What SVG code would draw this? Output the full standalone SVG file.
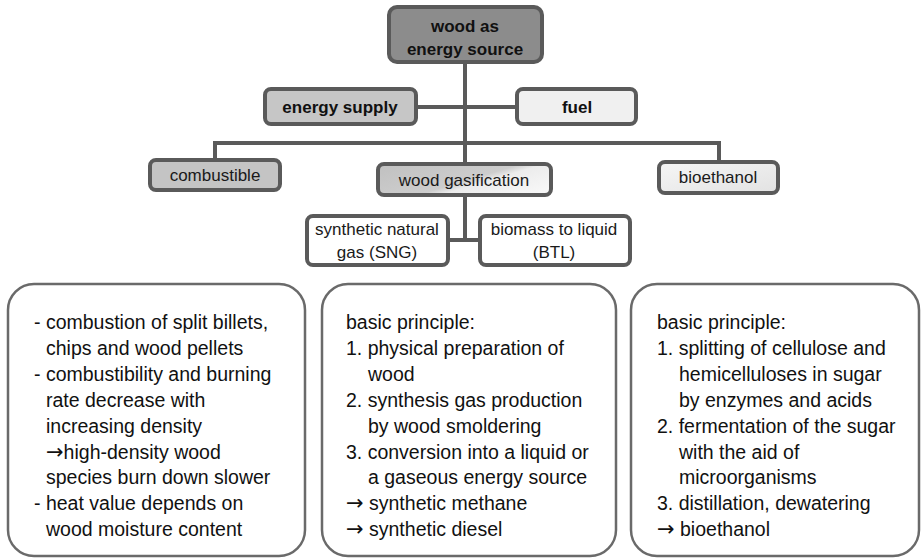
<svg xmlns="http://www.w3.org/2000/svg" width="923" height="559" viewBox="0 0 923 559">
<style>
.node{stroke:#5a5a5a;stroke-width:4}
.lbl{font-family:"Liberation Sans",Arial,sans-serif;font-size:17px;fill:#1a1a1a;text-anchor:middle}
.b{font-weight:bold;fill:#111}
.conn{stroke:#5a5a5a;stroke-width:4;fill:none}
.panel{fill:#fff;stroke:#6a6a6a;stroke-width:2.5}
.body{font-family:"Liberation Sans",Arial,sans-serif;font-size:19.5px;fill:#111}
.arr{font-family:"DejaVu Sans",sans-serif;font-size:21px}
</style>
<defs>
<linearGradient id="gGas" x1="0" y1="0.2" x2="1" y2="0.8">
<stop offset="0" stop-color="#c2c2c2"/>
<stop offset="0.52" stop-color="#cdcdcd"/>
<stop offset="0.62" stop-color="#ececec"/>
<stop offset="1" stop-color="#f7f7f7"/>
</linearGradient>
<linearGradient id="gBio" x1="0" y1="0" x2="1" y2="1">
<stop offset="0" stop-color="#f6f6f6"/>
<stop offset="1" stop-color="#e2e2e2"/>
</linearGradient>
</defs>
<rect width="923" height="559" fill="#fff"/>
<g id="connectors">
<line class="conn" x1="465" y1="62" x2="465" y2="164"/>
<line class="conn" x1="416" y1="107" x2="517" y2="107"/>
<polyline class="conn" points="215,160 215,143 719,143 719,162"/>
<line class="conn" x1="465" y1="195" x2="465" y2="240"/>
<line class="conn" x1="448" y1="240" x2="480" y2="240"/>
</g>
<g id="wood-energy-source">
<rect class="node" x="389" y="7" width="153" height="55" rx="8" fill="#8c8c8c"/>
<text class="lbl b" x="465" y="32" font-size="19">wood as</text>
<text class="lbl b" x="465" y="55" font-size="19">energy source</text>
</g>
<g id="energy-supply">
<rect class="node" x="265" y="89" width="151" height="35" rx="6" fill="#c6c6c6"/>
<text class="lbl b" x="340" y="113">energy supply</text>
</g>
<g id="fuel">
<rect class="node" x="517" y="89" width="119" height="35" rx="6" fill="#f0f0f0"/>
<text class="lbl b" x="577" y="113">fuel</text>
</g>
<g id="combustible">
<rect class="node" x="150" y="160" width="130" height="30" rx="6" fill="#c4c4c4"/>
<text class="lbl" x="215" y="181">combustible</text>
</g>
<g id="wood-gasification">
<rect class="node" x="378" y="164" width="173" height="31" rx="6" fill="url(#gGas)"/>
<text class="lbl" x="464" y="186">wood gasification</text>
</g>
<g id="bioethanol">
<rect class="node" x="659" y="162" width="119" height="31" rx="6" fill="url(#gBio)"/>
<text class="lbl" x="718" y="183">bioethanol</text>
</g>
<g id="sng">
<rect class="node" x="307" y="216" width="141" height="49" rx="6" fill="#fff"/>
<text class="lbl" x="377" y="235">synthetic natural</text>
<text class="lbl" x="377" y="258">gas (SNG)</text>
</g>
<g id="btl">
<rect class="node" x="480" y="216" width="150" height="49" rx="6" fill="#fff"/>
<text class="lbl" x="554" y="235">biomass to liquid</text>
<text class="lbl" x="554" y="258">(BTL)</text>
</g>
<g id="combustible-details">
<rect class="panel" x="8" y="284" width="297" height="272" rx="26"/>
<text class="body">
<tspan x="34" y="329">- combustion of split billets,</tspan>
<tspan x="46" y="354.9">chips and wood pellets</tspan>
<tspan x="34" y="380.8">- combustibility and burning</tspan>
<tspan x="46" y="406.7">rate decrease with</tspan>
<tspan x="46" y="432.6">increasing density</tspan>
<tspan x="46" y="458.5"><tspan class="arr">→</tspan>high-density wood</tspan>
<tspan x="46" y="484.4">species burn down slower</tspan>
<tspan x="34" y="510.3">- heat value depends on</tspan>
<tspan x="46" y="536.2">wood moisture content</tspan>
</text>
</g>
<g id="gasification-details">
<rect class="panel" x="322" y="284" width="294" height="272" rx="26"/>
<text class="body">
<tspan x="346" y="329">basic principle:</tspan>
<tspan x="346" y="354.9">1. physical preparation of</tspan>
<tspan x="368" y="380.8">wood</tspan>
<tspan x="346" y="406.7">2. synthesis gas production</tspan>
<tspan x="368" y="432.6">by wood smoldering</tspan>
<tspan x="346" y="458.5">3. conversion into a liquid or</tspan>
<tspan x="368" y="484.4">a gaseous energy source</tspan>
<tspan x="346" y="510.3"><tspan class="arr">→</tspan> synthetic methane</tspan>
<tspan x="346" y="536.2"><tspan class="arr">→</tspan> synthetic diesel</tspan>
</text>
</g>
<g id="bioethanol-details">
<rect class="panel" x="631" y="284" width="288" height="272" rx="26"/>
<text class="body">
<tspan x="657" y="329">basic principle:</tspan>
<tspan x="657" y="354.9">1. splitting of cellulose and</tspan>
<tspan x="679" y="380.8">hemicelluloses in sugar</tspan>
<tspan x="679" y="406.7">by enzymes and acids</tspan>
<tspan x="657" y="432.6">2. fermentation of the sugar</tspan>
<tspan x="679" y="458.5">with the aid of</tspan>
<tspan x="679" y="484.4">microorganisms</tspan>
<tspan x="657" y="510.3">3. distillation, dewatering</tspan>
<tspan x="657" y="536.2"><tspan class="arr">→</tspan> bioethanol</tspan>
</text>
</g>
</svg>
